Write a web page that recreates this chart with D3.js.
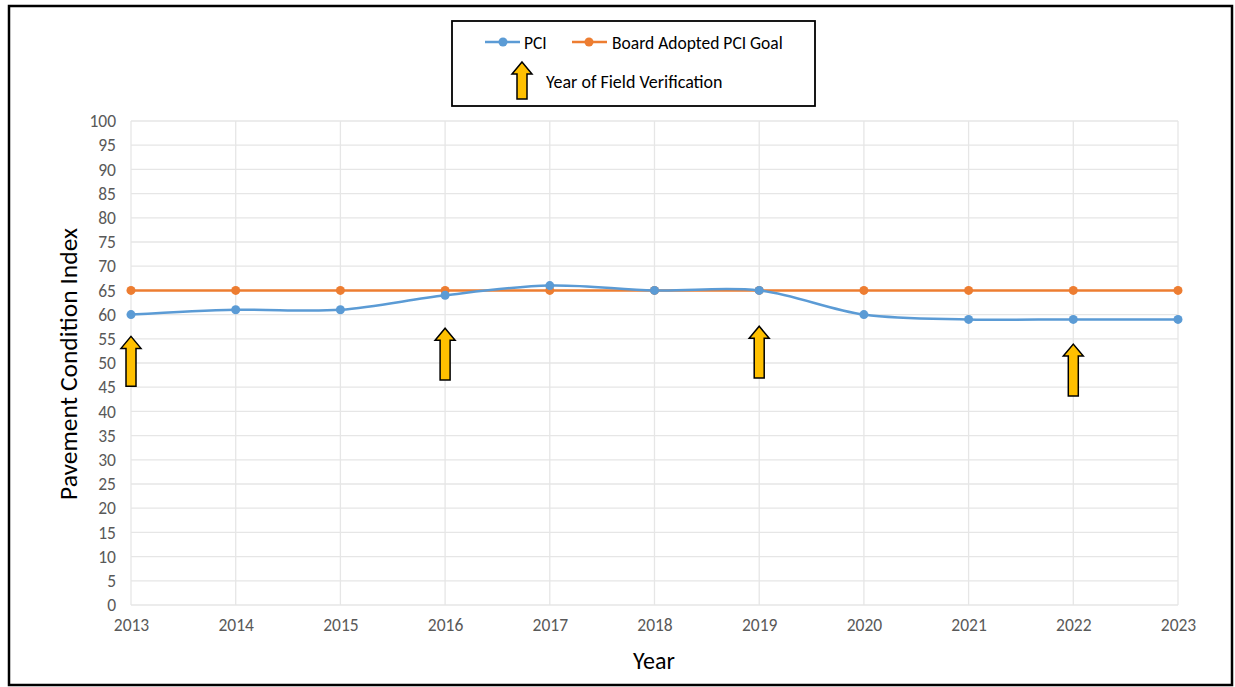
<!DOCTYPE html>
<html><head><meta charset="utf-8">
<script src="https://cdn.jsdelivr.net/npm/d3@7"></script>
<style>body{margin:0;background:#fff}svg{display:block}text{font-family:Carlito,"Open Sans","Liberation Sans",sans-serif}</style>
</head><body><svg id="c" width="1235" height="687"></svg>
<script>
const years = [2013,2014,2015,2016,2017,2018,2019,2020,2021,2022,2023];
const pci = [60,61,61,64,66,65,65,60,59,59,59];
const goal = [65,65,65,65,65,65,65,65,65,65,65];
const yTicks = d3.range(0,101,5);
const arrowYears = [2013,2016,2019,2022];
const arrowTips = [55.5,57.2,57.6,53.9];
const arrowBases = [45.2,46.5,46.9,43.2];

const svg = d3.select('#c');
svg.append('rect').attr('x',9).attr('y',6).attr('width',1223).attr('height',679)
  .attr('fill','#fff').attr('stroke','#000').attr('stroke-width',2.5);

const x = d3.scaleLinear().domain([2013,2023]).range([131,1178]);
const y = d3.scaleLinear().domain([0,100]).range([605,121]);

const grid = svg.append('g');
grid.selectAll('.h').data(yTicks).join('line')
  .attr('x1',131).attr('x2',1178).attr('y1',d=>y(d)).attr('y2',d=>y(d))
  .attr('stroke','#e6e6e6').attr('stroke-width',1.3);
grid.selectAll('.v').data(years).join('line')
  .attr('y1',y(0)).attr('y2',y(100)).attr('x1',d=>x(d)).attr('x2',d=>x(d))
  .attr('stroke','#e6e6e6').attr('stroke-width',1.3);

const ya = svg.append('g').attr('transform','translate(131,0)')
  .call(d3.axisLeft(y).tickValues(yTicks).tickSize(0).tickPadding(15));
ya.select('.domain').remove();
ya.selectAll('text').attr('fill','#595959').style('font-size','17.5px');

const xa = svg.append('g').attr('transform',`translate(0,${y(0)})`)
  .call(d3.axisBottom(x).tickValues(years).tickFormat(d3.format('d')).tickSize(0).tickPadding(14));
xa.select('.domain').remove();
xa.selectAll('text').attr('fill','#595959').style('font-size','17.5px');

svg.append('text').attr('x',654).attr('y',669).attr('text-anchor','middle')
  .style('font-size','24px').attr('fill','#000').text('Year');
svg.append('text').attr('transform','translate(77,364) rotate(-90)').attr('text-anchor','middle')
  .style('font-size','25.5px').attr('fill','#000').text('Pavement Condition Index');

const blue = '#5b9bd5', orange = '#ed7d31';
const lineS = d3.line().x((d,i)=>x(years[i])).y(d=>y(d)).curve(d3.curveCatmullRom.alpha(0.5));
const lineL = d3.line().x((d,i)=>x(years[i])).y(d=>y(d));

svg.append('path').datum(goal).attr('d',lineL).attr('fill','none').attr('stroke',orange).attr('stroke-width',2.5);
svg.selectAll('.gd').data(goal).join('circle').attr('cx',(d,i)=>x(years[i])).attr('cy',d=>y(d)).attr('r',4.5).attr('fill',orange);
svg.append('path').datum(pci).attr('d',lineS).attr('fill','none').attr('stroke',blue).attr('stroke-width',2.5);
svg.selectAll('.pd').data(pci).join('circle').attr('cx',(d,i)=>x(years[i])).attr('cy',d=>y(d)).attr('r',4.5).attr('fill',blue);

function arrowPath(cx, top, bot){
  const hw=10, sw=5, hh=12;
  return `M${cx},${top} L${cx+hw},${top+hh} L${cx+sw},${top+hh} L${cx+sw},${bot} L${cx-sw},${bot} L${cx-sw},${top+hh} L${cx-hw},${top+hh} Z`;
}
svg.selectAll('.arr').data(arrowYears).join('path')
  .attr('d',(d,i)=>arrowPath(x(d), y(arrowTips[i]), y(arrowBases[i])))
  .attr('fill','#ffc000').attr('stroke','#000').attr('stroke-width',1.5).attr('stroke-linejoin','miter');

// legend
const lg = svg.append('g');
lg.append('rect').attr('x',452).attr('y',21).attr('width',363).attr('height',85)
  .attr('fill','#fff').attr('stroke','#000').attr('stroke-width',1.8);
lg.append('line').attr('x1',485).attr('x2',520).attr('y1',42).attr('y2',42).attr('stroke',blue).attr('stroke-width',2.5);
lg.append('circle').attr('cx',503).attr('cy',42).attr('r',4.5).attr('fill',blue);
lg.append('text').attr('x',524).attr('y',48.5).style('font-size','17.5px').attr('fill','#000').text('PCI');
lg.append('line').attr('x1',572).attr('x2',607).attr('y1',42).attr('y2',42).attr('stroke',orange).attr('stroke-width',2.5);
lg.append('circle').attr('cx',589).attr('cy',42).attr('r',4.5).attr('fill',orange);
lg.append('text').attr('x',612).attr('y',48.5).style('font-size','17.5px').attr('fill','#000').text('Board Adopted PCI Goal');
lg.append('path').attr('d',arrowPath(522,62,99)).attr('fill','#ffc000').attr('stroke','#000').attr('stroke-width',1.5);
lg.append('text').attr('x',546).attr('y',87.5).style('font-size','18px').attr('fill','#000').text('Year of Field Verification');
</script></body></html>
